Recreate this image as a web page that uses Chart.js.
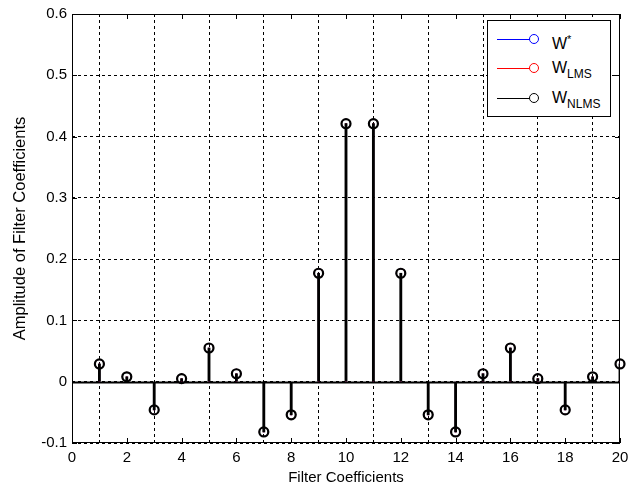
<!DOCTYPE html>
<html><head><meta charset="utf-8">
<script src="https://cdn.jsdelivr.net/npm/chart.js@4"></script>
<style>
html,body{margin:0;padding:0;background:#fff;}
#wrap{position:relative;width:638px;height:492px;}
#legend{position:absolute;left:487px;top:20px;width:124px;height:97px;border:1px solid #000;background:#fff;font-family:"Liberation Sans",Arial,sans-serif;color:#000;box-sizing:border-box;}
.row{position:absolute;left:0;width:123px;height:20px;}
.ln{position:absolute;left:9px;top:9px;width:36px;height:1px;}
.cir{position:absolute;left:41px;top:4px;width:10px;height:10px;border-radius:50%;border:1.3px solid;box-sizing:border-box;background:#fff;}
.tx{position:absolute;left:64px;top:0px;font-size:16px;line-height:18px;}
.tx sub{font-size:12px;vertical-align:-5px;}
.tx sup{font-size:11px;vertical-align:6px;}
</style></head><body>
<div id="wrap"><canvas id="c" width="638" height="492"></canvas>
<div id="legend">
 <div class="row" style="top:9px"><div class="ln" style="background:#0000ff"></div><div class="cir" style="border-color:#0000ff"></div><div class="tx">W<sup>*</sup></div></div>
 <div class="row" style="top:38px"><div class="ln" style="background:#ff0000"></div><div class="cir" style="border-color:#ff0000"></div><div class="tx">W<sub>LMS</sub></div></div>
 <div class="row" style="top:68px"><div class="ln" style="background:#000"></div><div class="cir" style="border-color:#000"></div><div class="tx">W<sub>NLMS</sub></div></div>
</div></div>
<script>
const coefIndex = [1,2,3,4,5,6,7,8,9,10,11,12,13,14,15,16,17,18,19,20];
const wStar = [0.029,0.008,-0.046,0.005,0.055,0.013,-0.082,-0.054,0.177,0.421,0.421,0.177,-0.054,-0.082,0.013,0.055,0.005,-0.046,0.008,0.029];
const wLMS  = [0.029,0.008,-0.046,0.005,0.055,0.013,-0.082,-0.054,0.177,0.421,0.421,0.177,-0.054,-0.082,0.013,0.055,0.005,-0.046,0.008,0.029];
const wNLMS = [0.029,0.008,-0.046,0.005,0.055,0.013,-0.082,-0.054,0.177,0.421,0.421,0.177,-0.054,-0.082,0.013,0.055,0.005,-0.046,0.008,0.029];
const xTicks = [0,2,4,6,8,10,12,14,16,18,20];
const yTicks = [-0.1,0,0.1,0.2,0.3,0.4,0.5,0.6];

const pts = arr => coefIndex.map((x,i)=>({x:x,y:arr[i]}));
function stem(arr,color,order,w){ return {type:'bar',data:pts(arr),backgroundColor:color,borderWidth:0,barThickness:w,grouped:false,order:order}; }
function marks(arr,color,order,bw,r){ return {type:'scatter',data:pts(arr),pointStyle:'circle',pointRadius:r,pointBorderWidth:bw,pointBorderColor:color,pointBackgroundColor:'rgba(0,0,0,0)',showLine:false,clip:false,order:order}; }

const frame = {
  id:'frame',
  beforeDatasetsDraw(chart){
    const {ctx,chartArea:a,scales} = chart;
    ctx.save();
    ctx.strokeStyle='#000';ctx.lineWidth=1;ctx.setLineDash([]);
    ctx.strokeRect(a.left+0.5,a.top+0.5,a.right-a.left-1,a.bottom-a.top-1);
    ctx.beginPath();
    xTicks.forEach(v=>{const px=Math.round(scales.x.getPixelForValue(v))+0.5;ctx.moveTo(px,a.bottom);ctx.lineTo(px,a.bottom-5);ctx.moveTo(px,a.top);ctx.lineTo(px,a.top+5);});
    yTicks.forEach(v=>{const py=Math.round(scales.y.getPixelForValue(v))+0.5;ctx.moveTo(a.left,py);ctx.lineTo(a.left+5,py);ctx.moveTo(a.right,py);ctx.lineTo(a.right-5,py);});
    ctx.stroke();
    const y0=Math.round(scales.y.getPixelForValue(0))+0.5;
    ctx.lineWidth=2;ctx.beginPath();ctx.moveTo(a.left,y0);ctx.lineTo(a.right,y0);ctx.stroke();
    ctx.restore();
  }
};
const F = '"Liberation Sans", Arial, sans-serif';
new Chart(document.getElementById('c'),{
  data:{datasets:[
    stem(wStar,'#0000ff',6,0.8),stem(wLMS,'#ff0000',5,0.8),stem(wNLMS,'#000000',2,2.2),
    marks(wStar,'#0000ff',4,0.8,4.5),marks(wLMS,'#ff0000',3,0.8,4.5),marks(wNLMS,'#000000',1,2.2,4.5)
  ]},
  options:{
    responsive:false,animation:false,
    layout:{padding:{left:11,top:14,right:18,bottom:5}},
    plugins:{legend:{display:false},tooltip:{enabled:false}},
    scales:{
      x:{type:'linear',min:0,max:20,offset:false,
        afterBuildTicks(s){s.ticks=xTicks.map(v=>({value:v}));},
        afterFit(s){s.height=44;},
        grid:{color:'#000',lineWidth:1,drawTicks:false,tickLength:0},
        border:{display:false,dash:[3,3]},
        ticks:{color:'#000',font:{family:F,size:15},padding:6,maxRotation:0,autoSkip:false},
        title:{display:true,text:'Filter Coefficients',color:'#000',font:{family:F,size:15},padding:{top:0,bottom:0}}
      },
      y:{type:'linear',min:-0.1,max:0.6,
        afterBuildTicks(s){s.ticks=yTicks.map(v=>({value:v}));},
        afterFit(s){s.width=61;},
        grid:{color:'#000',lineWidth:1,drawTicks:false,tickLength:0},
        border:{display:false,dash:[3,3]},
        ticks:{color:'#000',font:{family:F,size:15},padding:5,autoSkip:false,
          callback:v=>(Math.round(v*10)/10).toString()},
        title:{display:true,text:'Amplitude of Filter Coefficients',color:'#000',font:{family:F,size:16.5},padding:{top:0,bottom:4}}
      }
    }
  },
  plugins:[frame]
});
</script></body></html>
